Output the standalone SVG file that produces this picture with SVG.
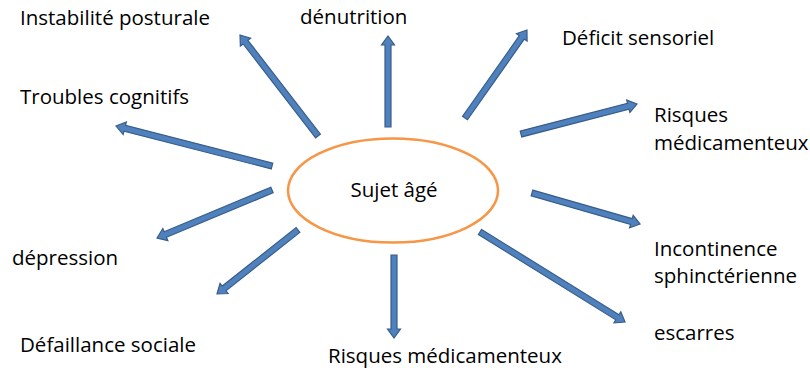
<svg xmlns="http://www.w3.org/2000/svg" width="810" height="371" viewBox="0 0 810 371">
<style>
text{font-family:"Open Sans","Noto Sans",sans-serif;font-size:20.5px;fill:#000}
.arr{fill:#4f81bd;stroke:#385d8a;stroke-width:1.2;stroke-linejoin:miter}
</style>
<rect width="810" height="371" fill="#fff"/>
<g id="connectors">
<polygon class="arr" transform="translate(318,136) rotate(-127.68)" points="0,-3 118.6,-3 118.6,-6.5 127.6,0 118.6,6.5 118.6,3 0,3"/>
<polygon class="arr" transform="translate(388,127) rotate(-90)" points="0,-3 82,-3 82,-6.5 91,0 82,6.5 82,3 0,3"/>
<polygon class="arr" transform="translate(465,118) rotate(-54.83)" points="0,-3 98.6,-3 98.6,-6.5 107.6,0 98.6,6.5 98.6,3 0,3"/>
<polygon class="arr" transform="translate(521,134) rotate(-14.5)" points="0,-3 110.8,-3 110.8,-6.5 119.8,0 110.8,6.5 110.8,3 0,3"/>
<polygon class="arr" transform="translate(272,166) rotate(-165.62)" points="0,-3 152,-3 152,-6.5 161,0 152,6.5 152,3 0,3"/>
<polygon class="arr" transform="translate(272,190) rotate(157.34)" points="0,-3 115.6,-3 115.6,-6.5 124.6,0 115.6,6.5 115.6,3 0,3"/>
<polygon class="arr" transform="translate(298,230) rotate(141.69)" points="0,-3 94.2,-3 94.2,-6.5 103.2,0 94.2,6.5 94.2,3 0,3"/>
<polygon class="arr" transform="translate(394,255) rotate(90)" points="0,-3 74,-3 74,-6.5 83,0 74,6.5 74,3 0,3"/>
<polygon class="arr" transform="translate(532,193) rotate(16.02)" points="0,-3 103.4,-3 103.4,-6.5 112.4,0 103.4,6.5 103.4,3 0,3"/>
<polygon class="arr" transform="translate(480,232) rotate(31.83)" points="0,-3 161.7,-3 161.7,-6.5 170.7,0 161.7,6.5 161.7,3 0,3"/>
</g>
<g id="center">
<ellipse cx="393" cy="190.5" rx="105" ry="52" fill="#fff" stroke="#f79646" stroke-width="2.5"/>
<text x="394" y="197" text-anchor="middle">Sujet âgé</text>
</g>
<g id="n-instabilite"><text x="20" y="25">Instabilité posturale</text></g>
<g id="n-denutrition"><text x="300" y="24">dénutrition</text></g>
<g id="n-deficit"><text x="562" y="45">Déficit sensoriel</text></g>
<g id="n-risques1"><text x="654" y="122">Risques</text><text x="654" y="150">médicamenteux</text></g>
<g id="n-troubles"><text x="20" y="104">Troubles cognitifs</text></g>
<g id="n-depression"><text x="12" y="265">dépression</text></g>
<g id="n-defaillance"><text x="20" y="352">Défaillance sociale</text></g>
<g id="n-risques2"><text x="328" y="363">Risques médicamenteux</text></g>
<g id="n-incontinence"><text x="654" y="256">Incontinence</text><text x="654" y="283">sphinctérienne</text></g>
<g id="n-escarres"><text x="654" y="340">escarres</text></g>
</svg>
